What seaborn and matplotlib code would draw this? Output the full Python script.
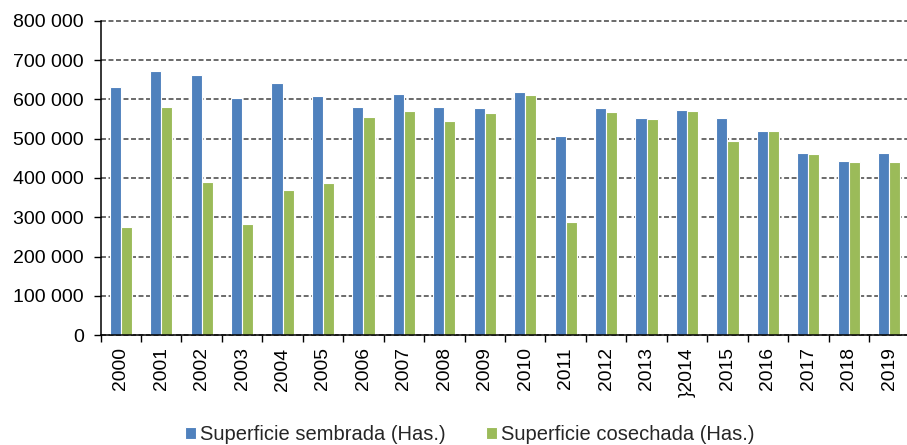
#!/usr/bin/env python3
"""
Superficie sembrada vs cosechada (Has.), 2000-2019 - grouped bar chart.
"""
import pandas as pd
import matplotlib
matplotlib.use('Agg')
import matplotlib.pyplot as plt
from matplotlib.ticker import FixedLocator, FuncFormatter
import seaborn as sns

# Data
years = ['2000', '2001', '2002', '2003', '2004', '2005', '2006', '2007', '2008', '2009',
         '2010', '2011', '2012', '2013', '}2014', '2015', '2016', '2017', '2018', '2019']
sembrada = [631000, 673000, 662000, 605000, 642000, 608000, 582000, 614000, 582000, 578000,
            619000, 507000, 578000, 553000, 573000, 552000, 520000, 463000, 443000, 463000]
cosechada = [274000, 580000, 391000, 282000, 370000, 387000, 556000, 570000, 545000, 566000,
             611000, 287000, 568000, 551000, 571000, 495000, 520000, 462000, 442000, 442000]
series_names = ['Superficie sembrada (Has.)', 'Superficie cosechada (Has.)']
colors = ['#4F81BD', '#9BBB59']
y_ticks = [0, 100000, 200000, 300000, 400000, 500000, 600000, 700000, 800000]

df = pd.DataFrame({
    'year': years * 2,
    'value': sembrada + cosechada,
    'serie': [series_names[0]] * len(years) + [series_names[1]] * len(years),
})

sns.set_style('white')
plt.rcParams['font.family'] = ['Liberation Sans', 'DejaVu Sans']

fig = plt.figure(figsize=(9.07, 4.45), dpi=100)
ax = fig.add_axes([100.5 / 907, 1 - 335 / 445, 809 / 907, 314 / 445])

sns.barplot(data=df, x='year', y='value', hue='serie', palette=colors,
            width=0.55, saturation=1, edgecolor='white', linewidth=0.8,
            order=years, hue_order=series_names, ax=ax)

ax.set_xlim(-0.5, len(years) - 0.5)
ax.set_ylim(0, 800000)
ax.set_xlabel('')
ax.set_ylabel('')

# y axis: spaced thousands
ax.yaxis.set_major_locator(FixedLocator(y_ticks))
ax.yaxis.set_major_formatter(FuncFormatter(lambda v, p: f'{v:,.0f}'.replace(',', ' ')))
ax.tick_params(axis='y', which='major', length=5, width=1, color='black',
               direction='out', pad=7, labelsize=14, labelcolor='black', left=True)

# x axis: labels centered, tick marks between categories
ax.set_xticks(range(len(years)))
ax.set_xticklabels(years, rotation=90, fontsize=13.9, color='black')
ax.tick_params(axis='x', which='major', length=0, pad=9)
ax.set_xticks([i - 0.5 for i in range(len(years) + 1)], minor=True)
ax.tick_params(axis='x', which='minor', length=5, width=1, color='black',
               direction='out', bottom=True)

# dashed gridlines (top one must not be clipped)
ax.set_axisbelow(True)
ax.yaxis.grid(True, color='#4a4a4a', linestyle=(0, (3.1, 1.6)), linewidth=1.15)
for gl in ax.get_ygridlines():
    gl.set_clip_on(False)

for side in ['top', 'right']:
    ax.spines[side].set_visible(False)
for side in ['left', 'bottom']:
    ax.spines[side].set_color('black')
    ax.spines[side].set_linewidth(1.1)

handles, labels = ax.get_legend_handles_labels()
ax.legend(handles, labels, loc='center', bbox_to_anchor=(469.5 / 907, 10 / 445),
          bbox_transform=fig.transFigure, ncol=2, frameon=False, fontsize=14.5,
          handlelength=0.55, handleheight=0.55, handletextpad=0.2, columnspacing=2.0,
          borderaxespad=0, borderpad=0)

fig.savefig('out.png', dpi=100)
plt.close('all')
